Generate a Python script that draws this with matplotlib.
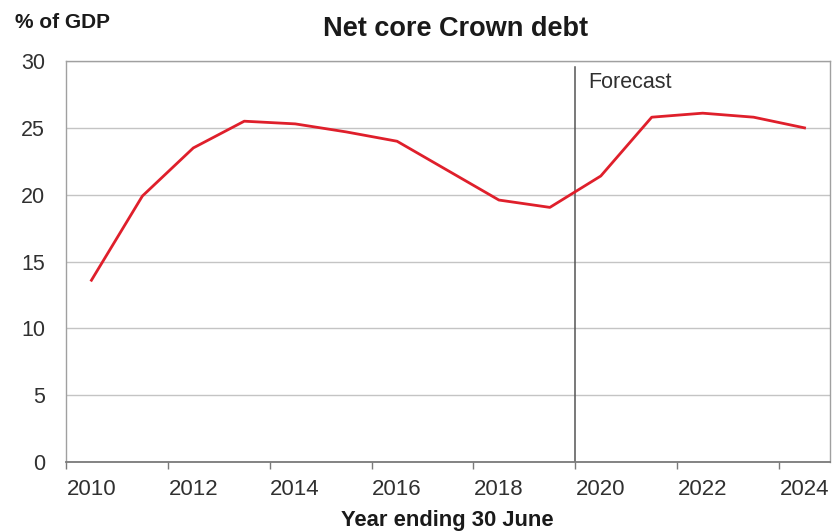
import matplotlib.pyplot as plt
import numpy as np

plt.rcParams['font.family'] = ['Liberation Sans', 'DejaVu Sans']

# Net core Crown debt, % of GDP (year ending 30 June)
years = list(range(2010, 2025))
debt = [13.6, 19.9, 23.5, 25.5, 25.3, 24.7, 24.0, 21.8, 19.6, 19.05,
        21.4, 25.8, 26.1, 25.8, 25.0]
label_years = [2010, 2012, 2014, 2016, 2018, 2020, 2022, 2024]
y_ticks = [0, 5, 10, 15, 20, 25, 30]
forecast_start = 2019.5

text_col = '#303030'

fig = plt.figure(figsize=(8.32, 5.31), dpi=100)
ax = fig.add_axes([0.0793, 0.130, 0.9183, 0.755])

ax.plot(years, debt, color='#df1f2b', lw=2.0, zorder=3)

ax.set_xlim(years[0] - 0.5, years[-1] + 0.5)
ax.set_ylim(0, 30)

# tick marks sit between categories, labels at the category centres
boundaries = np.arange(years[0] - 0.5, years[-1], 2)
ax.set_xticks(boundaries)
ax.set_xticklabels([])
ax.set_xticks(label_years, minor=True)
ax.set_xticklabels([str(y) for y in label_years], minor=True)
ax.tick_params(axis='x', which='major', length=5, width=1, color='#7a7a7a', direction='out')
ax.tick_params(axis='x', which='minor', length=0, pad=12, labelsize=16, labelcolor=text_col)

ax.set_yticks(y_ticks)
ax.tick_params(axis='y', length=0, pad=15, labelsize=15.5, labelcolor=text_col)

ax.grid(axis='y', color='#c4c4c4', lw=1)
ax.set_axisbelow(True)
for side in ['left', 'top', 'right']:
    ax.spines[side].set_color('#a0a0a0')
    ax.spines[side].set_linewidth(1)
ax.spines['bottom'].set_color('#7a7a7a')
ax.spines['bottom'].set_linewidth(1.3)

ax.axvline(forecast_start, ymin=0, ymax=0.985, color='#555555', lw=1.1, zorder=2)
ax.text(forecast_start + 0.25, 28.4, 'Forecast', fontsize=15.5, color=text_col,
        va='center', ha='left')

fig.text(0.547, 0.945, 'Net core Crown debt', fontsize=19.5, fontweight='bold',
         color='#1a1a1a', ha='center', va='center')
fig.text(0.018, 0.958, '% of GDP', fontsize=15, fontweight='bold', color='#1a1a1a',
         ha='left', va='center')
fig.text(0.538, 0.019, 'Year ending 30 June', fontsize=15.8, fontweight='bold',
         color='#1a1a1a', ha='center', va='center')

fig.savefig('out.png', dpi=100)
